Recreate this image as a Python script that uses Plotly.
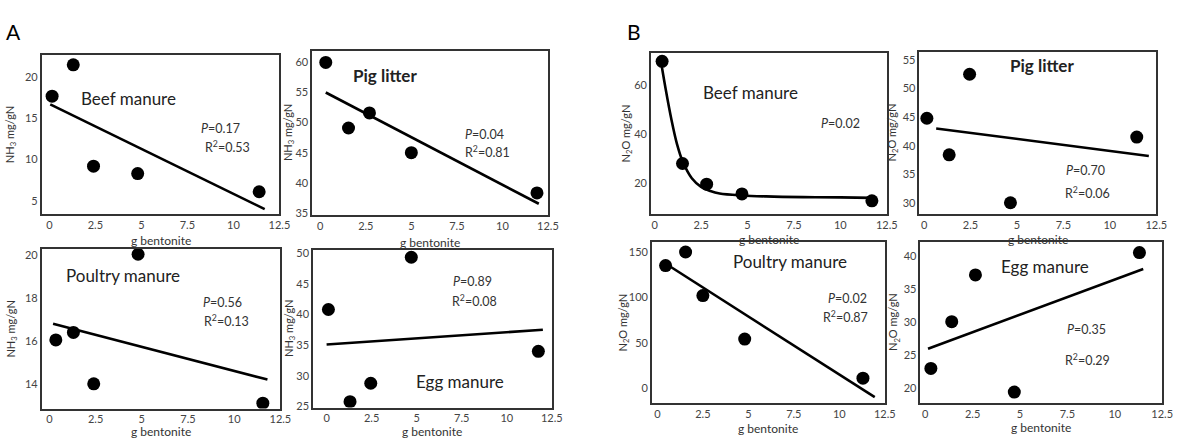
import plotly.graph_objects as go

W, H = 1194, 438

# ---------------- data ----------------
# Panel A: NH3 emissions
beef_nh3_x = [0.15, 1.3, 2.4, 4.8, 11.4]
beef_nh3_y = [17.7, 21.5, 9.2, 8.3, 6.1]
beef_nh3_fit_x = [0.05, 11.7]
beef_nh3_fit_y = [16.7, 4.0]

pig_nh3_x = [0.3, 1.55, 2.7, 5.0, 11.9]
pig_nh3_y = [60.0, 49.1, 51.6, 45.0, 38.3]
pig_nh3_fit_x = [0.3, 12.0]
pig_nh3_fit_y = [55.0, 36.5]

poultry_nh3_x = [0.35, 1.3, 2.4, 4.8, 11.55]
poultry_nh3_y = [16.05, 16.4, 14.0, 20.05, 13.1]
poultry_nh3_fit_x = [0.2, 11.8]
poultry_nh3_fit_y = [16.8, 14.2]

egg_nh3_x = [0.1, 1.3, 2.45, 4.7, 11.75]
egg_nh3_y = [40.8, 25.8, 28.8, 49.3, 34.0]
egg_nh3_fit_x = [0.0, 12.0]
egg_nh3_fit_y = [35.1, 37.5]

# Panel B: N2O emissions
beef_n2o_x = [0.4, 1.5, 2.8, 4.7, 11.7]
beef_n2o_y = [69.6, 28.0, 19.6, 15.6, 12.8]
beef_n2o_fit_x = [0.35, 0.6, 0.9, 1.2, 1.5, 2.0, 2.5, 3.0, 3.5, 4.7, 6.0, 8.0, 10.0, 11.7]
beef_n2o_fit_y = [69.0, 58.0, 46.0, 36.0, 29.0, 22.0, 18.5, 16.8, 15.8, 15.0, 14.6, 14.3, 14.2, 14.0]

pig_n2o_x = [0.15, 1.35, 2.45, 4.65, 11.45]
pig_n2o_y = [44.8, 38.4, 52.5, 30.0, 41.5]
pig_n2o_fit_x = [0.65, 12.1]
pig_n2o_fit_y = [43.0, 38.2]

poultry_n2o_x = [0.45, 1.55, 2.5, 4.8, 11.3]
poultry_n2o_y = [135, 150, 102, 54, 11]
poultry_n2o_fit_x = [0.7, 11.95]
poultry_n2o_fit_y = [134, -10]

egg_n2o_x = [0.3, 1.4, 2.65, 4.7, 11.3]
egg_n2o_y = [23.0, 30.1, 37.2, 19.4, 40.6]
egg_n2o_fit_x = [0.15, 11.5]
egg_n2o_fit_y = [26.0, 38.1]

x_ticks = [0, 2.5, 5, 7.5, 10, 12.5]
x_tick_text = ["0", "2.5", "5", "7.5", "10", "12.5"]

# ---------------- layout helpers ----------------
FONT = "Lato, 'Open Sans', sans-serif"
panels = [
    dict(x=beef_nh3_x, y=beef_nh3_y, fx=beef_nh3_fit_x, fy=beef_nh3_fit_y,
         box=(42, 282, 52, 214), xr=[-0.42, 12.5], yr=[3.45, 22.7], yt=[5, 10, 15, 20],
         name="Beef manure", npos=(130, 96), bold=False,
         stats=[("<i>P</i>=0.17", 223, 127), ("R<sup>2</sup>=0.53", 230, 145)],
         ytitle="NH<sub>3</sub> mg/gN", ytx=10, xto=18),
    dict(x=pig_nh3_x, y=pig_nh3_y, fx=pig_nh3_fit_x, fy=pig_nh3_fit_y,
         box=(315, 553, 48, 215), xr=[-0.45, 12.5], yr=[34.7, 61.9], yt=[35, 40, 45, 50, 55, 60],
         name="Pig litter", npos=(389, 73), bold=True,
         stats=[("<i>P</i>=0.04", 489, 133), ("R<sup>2</sup>=0.81", 492, 151)],
         ytitle="NH<sub>3</sub> mg/gN", ytx=291, xto=19),
    dict(x=poultry_nh3_x, y=poultry_nh3_y, fx=poultry_nh3_fit_x, fy=poultry_nh3_fit_y,
         box=(42, 283, 250, 413), xr=[-0.42, 12.5], yr=[12.85, 20.3], yt=[14, 16, 18, 20],
         name="Poultry manure", npos=(124, 277), bold=False,
         stats=[("<i>P</i>=0.56", 225, 305), ("R<sup>2</sup>=0.13", 229, 323)],
         ytitle="NH<sub>3</sub> mg/gN", ytx=12, xto=14),
    dict(x=egg_nh3_x, y=egg_nh3_y, fx=egg_nh3_fit_x, fy=egg_nh3_fit_y,
         box=(316, 557, 251, 412), xr=[-0.75, 12.5], yr=[24.85, 50.5], yt=[25, 30, 35, 40, 45, 50],
         name="Egg manure", npos=(464, 385), bold=False,
         stats=[("<i>P</i>=0.89", 477, 283), ("R<sup>2</sup>=0.08", 479, 303)],
         ytitle="NH<sub>3</sub> mg/gN", ytx=292, xto=15),
    dict(x=beef_n2o_x, y=beef_n2o_y, fx=beef_n2o_fit_x, fy=beef_n2o_fit_y,
         box=(657, 895, 50, 214), xr=[-0.2, 12.5], yr=[7.6, 73], yt=[20, 40, 60],
         name="Beef manure", npos=(757, 90), bold=False,
         stats=[("<i>P</i>=0.02", 848, 122)],
         ytitle="N<sub>2</sub>O mg/gN", ytx=632, spline=True, xto=17),
    dict(x=pig_n2o_x, y=pig_n2o_y, fx=pig_n2o_fit_x, fy=pig_n2o_fit_y,
         box=(928, 1167, 49, 214), xr=[-0.25, 12.5], yr=[28.1, 56.4], yt=[30, 35, 40, 45, 50, 55],
         name="Pig litter", npos=(1052, 63), bold=True,
         stats=[("<i>P</i>=0.70", 1096, 170), ("R<sup>2</sup>=0.06", 1098, 192)],
         ytitle="N<sub>2</sub>O mg/gN", ytx=901, xto=17),
    dict(x=poultry_n2o_x, y=poultry_n2o_y, fx=poultry_n2o_fit_x, fy=poultry_n2o_fit_y,
         box=(658, 893, 243, 407), xr=[-0.3, 12.5], yr=[-16, 161], yt=[0, 50, 100, 150],
         name="Poultry manure", npos=(797, 263), bold=False,
         stats=[("<i>P</i>=0.02", 855, 301), ("R<sup>2</sup>=0.87", 853, 319)],
         ytitle="N<sub>2</sub>O mg/gN", ytx=629, xto=17),
    dict(x=egg_n2o_x, y=egg_n2o_y, fx=egg_n2o_fit_x, fy=egg_n2o_fit_y,
         box=(929, 1173, 243, 407), xr=[-0.25, 12.5], yr=[17.8, 42.2], yt=[20, 25, 30, 35, 40],
         name="Egg manure", npos=(1055, 268), bold=False,
         stats=[("<i>P</i>=0.35", 1097, 332), ("R<sup>2</sup>=0.29", 1098, 363)],
         ytitle="N<sub>2</sub>O mg/gN", ytx=902, xto=16),
]

fig = go.Figure()
annotations = []


def px_x(v):
    return v / W


def px_y(v):
    return 1 - v / H


def note(text, x, y, size, color="#333333", angle=0, yanchor="middle"):
    return dict(text=text, x=px_x(x), y=px_y(y), xref="paper", yref="paper",
                showarrow=False, xanchor="center", yanchor=yanchor, textangle=angle,
                font=dict(family=FONT, size=size, color=color))


for i, p in enumerate(panels, start=1):
    xa = "x" if i == 1 else f"x{i}"
    ya = "y" if i == 1 else f"y{i}"
    l, r, t, b = p["box"]
    fig.add_trace(go.Scatter(
        x=p["fx"], y=p["fy"], mode="lines", xaxis=xa, yaxis=ya,
        line=dict(color="black", width=2.6, shape="spline" if p.get("spline") else "linear"),
        showlegend=False, hoverinfo="skip"))
    fig.add_trace(go.Scatter(
        x=p["x"], y=p["y"], mode="markers", xaxis=xa, yaxis=ya,
        marker=dict(color="black", size=13), showlegend=False))

    axis_common = dict(showgrid=False, zeroline=False, showline=True, mirror=True,
                       linecolor="#333333", linewidth=1.5,
                       tickfont=dict(family=FONT, size=11, color="#444444"))
    fig.layout[("xaxis" if i == 1 else f"xaxis{i}")] = dict(
        domain=[px_x(l), px_x(r)], anchor=ya, range=p["xr"],
        tickmode="array", tickvals=x_ticks, ticktext=x_tick_text,
        ticks="", ticklen=0, **axis_common)
    fig.layout[("yaxis" if i == 1 else f"yaxis{i}")] = dict(
        domain=[px_y(b), px_y(t)], anchor=xa, range=p["yr"],
        tickmode="array", tickvals=p["yt"], ticks="", ticklen=0, **axis_common)

    annotations.append(note("g bentonite", (l + r) / 2, b + p["xto"], 12, yanchor="top"))
    annotations.append(note(p["ytitle"], p["ytx"], (t + b) / 2, 11, angle=-90))
    nm = f"<b>{p['name']}</b>" if p["bold"] else p["name"]
    annotations.append(note(nm, p["npos"][0], p["npos"][1], 17, color="#222222"))
    for txt, sx, sy in p["stats"]:
        annotations.append(note(txt, sx, sy, 12.5))

annotations.append(note("A", 14, 28, 21, color="black"))
annotations.append(note("B", 640, 28, 21, color="black"))

fig.update_layout(
    width=W, height=H, margin=dict(l=0, r=0, t=0, b=0),
    paper_bgcolor="white", plot_bgcolor="white",
    annotations=annotations, showlegend=False,
)

fig.write_html("out.html")
